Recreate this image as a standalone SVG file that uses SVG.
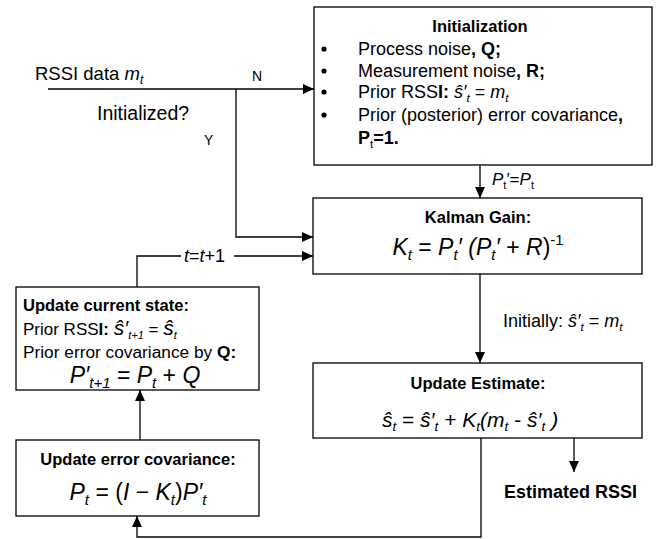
<svg xmlns="http://www.w3.org/2000/svg" width="664" height="539" viewBox="0 0 664 539">
<defs>
<marker id="arr" markerUnits="userSpaceOnUse" markerWidth="12" markerHeight="10" refX="11" refY="5" orient="auto">
<path d="M0,0 L11,5 L0,10 Z" fill="#000"/>
</marker>
<style>
text{font-family:"Liberation Sans",Arial,sans-serif;fill:#000}
.box{fill:#fff;stroke:#000;stroke-width:1.3}
.ln{fill:none;stroke:#000;stroke-width:1.3}
.ar{marker-end:url(#arr)}
.b{font-weight:bold}
.ttl{font-weight:bold;font-size:16.5px;text-anchor:middle}
.body{font-size:18px}
.m{font-style:italic}
.sub{font-size:0.65em}
.cm{text-anchor:middle}
</style>
</defs>
<rect width="664" height="539" fill="#fff"/>

<g id="connectors">
<path class="ln ar" d="M48,89 H314"/>
<path class="ln ar" d="M236,89 V237 H313"/>
<path class="ln ar" d="M480,165 V198"/>
<path class="ln" d="M137,287 V256 H181"/>
<path class="ln ar" d="M234,256 H313"/>
<path class="ln ar" d="M480,274 V363"/>
<path class="ln ar" d="M574,438 V472"/>
<path class="ln ar" d="M481,438 V537 H137 V516"/>
<path class="ln ar" d="M140,440 V390"/>
</g>

<g id="labels">
<text x="35" y="80" font-size="18.5">RSSI data <tspan class="m">m</tspan><tspan class="m sub" dy="4">t</tspan></text>
<text x="252" y="81" font-size="14">N</text>
<text x="97" y="120" font-size="19.5">Initialized?</text>
<text x="204" y="145" font-size="14">Y</text>
<text x="492" y="185" font-size="17"><tspan class="m">P</tspan><tspan class="sub" dy="4">t</tspan><tspan dy="-4">′=</tspan><tspan class="m">P</tspan><tspan class="sub" dy="4">t</tspan></text>
<text x="184" y="262" font-size="18"><tspan class="m">t</tspan>=<tspan class="m">t</tspan>+1</text>
<text x="503" y="327" font-size="18">Initially: <tspan class="m">ŝ′</tspan><tspan class="m sub" dy="4">t</tspan><tspan dy="-4"> = </tspan><tspan class="m">m</tspan><tspan class="m sub" dy="4">t</tspan></text>
<text x="504" y="498" font-size="18" class="b">Estimated RSSI</text>
</g>

<g id="initialization">
<rect class="box" x="314" y="7" width="338" height="158"/>
<text class="ttl" x="480" y="32">Initialization</text>
<g fill="#000">
<circle cx="324" cy="49" r="2.6"/>
<circle cx="324" cy="71" r="2.6"/>
<circle cx="324" cy="92" r="2.6"/>
<circle cx="324" cy="115" r="2.6"/>
</g>
<text class="body" x="358" y="55">Process noise<tspan class="b">, Q;</tspan></text>
<text class="body" x="358" y="77">Measurement noise<tspan class="b">, R;</tspan></text>
<text class="body" x="358" y="98">Prior RSS<tspan class="b">I:</tspan>  <tspan class="m">ŝ′</tspan><tspan class="m sub" dy="4">t</tspan><tspan dy="-4"> = </tspan><tspan class="m">m</tspan><tspan class="m sub" dy="4">t</tspan></text>
<text class="body" x="358" y="121">Prior (posterior) error covariance<tspan class="b">,</tspan></text>
<text class="body b" x="358" y="144">P<tspan class="sub" font-weight="normal" dy="4">t</tspan><tspan dy="-4">=1.</tspan></text>
</g>

<g id="kalman-gain">
<rect class="box" x="313" y="198" width="329" height="76"/>
<text class="ttl" x="478" y="223">Kalman Gain:</text>
<text x="478" y="255" font-size="23" class="cm"><tspan class="m">K</tspan><tspan class="m sub" dy="5">t</tspan><tspan dy="-5"> = </tspan><tspan class="m">P</tspan><tspan class="m sub" dy="5">t</tspan><tspan class="m" dy="-5">′ (P</tspan><tspan class="m sub" dy="5">t</tspan><tspan class="m" dy="-5">′</tspan> + <tspan class="m">R</tspan>)<tspan class="sub" dy="-10">-1</tspan></text>
</g>

<g id="update-estimate">
<rect class="box" x="313" y="363" width="329" height="75"/>
<text class="ttl" x="478" y="389">Update Estimate:</text>
<text x="470" y="427" font-size="21" class="cm"><tspan class="m">ŝ</tspan><tspan class="m sub" dy="4">t</tspan><tspan dy="-4"> = </tspan><tspan class="m">ŝ′</tspan><tspan class="m sub" dy="4">t</tspan><tspan dy="-4"> + </tspan><tspan class="m">K</tspan><tspan class="m sub" dy="4">t</tspan><tspan class="m" dy="-4">(m</tspan><tspan class="m sub" dy="4">t</tspan><tspan dy="-4"> - </tspan><tspan class="m">ŝ′</tspan><tspan class="m sub" dy="4">t</tspan><tspan class="m" dy="-4"> )</tspan></text>
</g>

<g id="update-current-state">
<rect class="box" x="16" y="287" width="243" height="103"/>
<text class="b" x="23" y="311" font-size="16.5">Update current state:</text>
<text x="23" y="335" font-size="17">Prior RSS<tspan class="b">I:</tspan> <tspan class="m" font-size="21">ŝ′</tspan><tspan class="m sub" dy="4">t+1</tspan><tspan dy="-4"> = </tspan><tspan class="m" font-size="21">ŝ</tspan><tspan class="m sub" dy="4">t</tspan></text>
<text x="23" y="358" font-size="17.3">Prior error covariance by <tspan class="b">Q:</tspan></text>
<text x="135" y="383" font-size="23" class="cm"><tspan class="m">P′</tspan><tspan class="m sub" dy="5">t+1</tspan><tspan dy="-5"> = </tspan><tspan class="m">P</tspan><tspan class="m sub" dy="5">t</tspan><tspan dy="-5"> + </tspan><tspan class="m">Q</tspan></text>
</g>

<g id="update-error-covariance">
<rect class="box" x="16" y="440" width="243" height="76"/>
<text class="ttl" x="138" y="465" font-size="16.8">Update error covariance:</text>
<text x="138" y="500" font-size="23" class="cm"><tspan class="m">P</tspan><tspan class="m sub" dy="5">t</tspan><tspan dy="-5"> = (</tspan><tspan class="m">I</tspan> − <tspan class="m">K</tspan><tspan class="m sub" dy="5">t</tspan><tspan dy="-5">)</tspan><tspan class="m">P′</tspan><tspan class="m sub" dy="5">t</tspan></text>
</g>
</svg>
